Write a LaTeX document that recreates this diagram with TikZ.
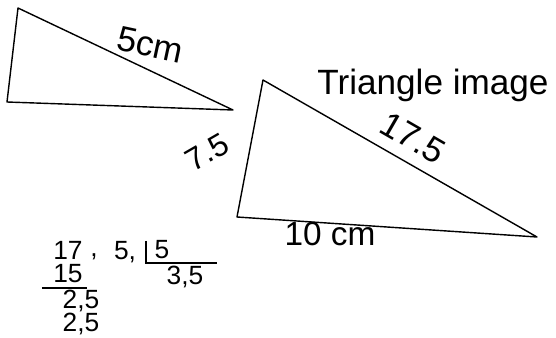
\documentclass[tikz,border=0pt]{standalone}
\usepackage{fontspec}
\setmainfont{Liberation Sans}
\usetikzlibrary{positioning, calc}
\usepackage{xcolor}

\begin{document}
\begin{tikzpicture}[
    x=0.02cm, y=-0.02cm,
    side/.style={draw, line width=0.8pt, line join=round},
    label/.style={inner sep=0pt, font=\fontsize{18}{20}\selectfont},
    sum/.style={inner sep=0pt, anchor=base, font=\fontsize{15}{17}\selectfont},
    rule/.style={draw, line width=0.8pt}
]
\useasboundingbox (0,0) rectangle (556,338);

% small triangle
\coordinate (sa) at (18,8);
\coordinate (sb) at (7,102);
\coordinate (sc) at (233,110);
\draw[side] (sa) -- (sb) -- (sc) -- cycle;
\node[label, font=\fontsize{20}{22}\selectfont, rotate=-12] (lenS) at (150,45) {5cm};

% image triangle
\coordinate (ba) at (263,80);
\coordinate (bb) at (237,217);
\coordinate (bc) at (537,237);
\draw[side] (ba) -- (bb) -- (bc) -- cycle;
\node[label, font=\fontsize{20}{22}\selectfont] (title) at (433,85) {Triangle image};
\node[label, font=\fontsize{20}{22}\selectfont, rotate=-30] (hyp) at (413,138) {17.5};
\node[label, rotate=30] (left) at (207,152) {7.5};
\node[label, font=\fontsize{19}{21}\selectfont] (base) at (330,234) {10 cm};

% working
\node[sum] (dvd) at (68,260) {17};
\node[sum] (cma) at (94,256) {,};
\node[sum] (rest) at (125,260) {5,};
\node[sum] (dvs) at (162,259) {5};
\node[sum] (quo) at (185,285) {3,5};
\node[sum] (sub) at (68,283) {15};
\node[sum] (diff) at (81,309) {2,5};
\node[sum] (back) at (81,332) {2,5};
\coordinate (brT) at (146,241);
\coordinate (brC) at (146,263);
\coordinate (brE) at (217,263);
\draw[rule] (brT) -- (brC) -- (brE);
\coordinate (subW) at (42,288);
\coordinate (subE) at (87,288);
\draw[rule] (subW) -- (subE);

\end{tikzpicture}
\end{document}
